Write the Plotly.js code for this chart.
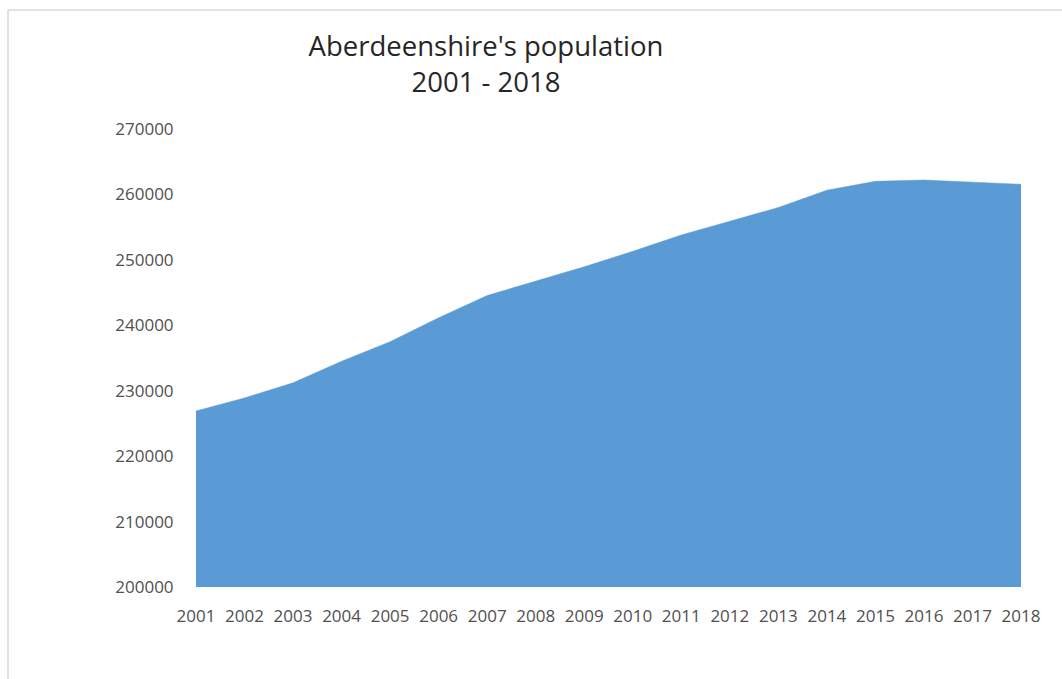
<!DOCTYPE html>
<html>
<head>
<meta charset="utf-8">
<script src="https://cdn.plot.ly/plotly-3.0.1.min.js"></script>
<style>
  html, body { margin: 0; padding: 0; background: #fff; }
  #chart { width: 1062px; height: 679px; }
</style>
</head>
<body>
<div id="chart"></div>
<script>
const years = ['2001','2002','2003','2004','2005','2006','2007','2008','2009',
               '2010','2011','2012','2013','2014','2015','2016','2017','2018'];
const population = [226900, 228900, 231200, 234500, 237500, 241150, 244550, 246750, 248950,
                    251300, 253800, 255900, 258000, 260650, 262000, 262200, 261900, 261550];
const yTicks = [200000, 210000, 220000, 230000, 240000, 250000, 260000, 270000];
const chartTitle = "Aberdeenshire's population<br>2001 - 2018";

const trace = {
  x: years,
  y: population,
  type: 'scatter',
  mode: 'lines',
  fill: 'tozeroy',
  fillcolor: '#5B9BD5',
  line: { color: '#5B9BD5', width: 0.5 },
  hoverinfo: 'x+y'
};

const layout = {
  width: 1062,
  height: 679,
  paper_bgcolor: '#ffffff',
  plot_bgcolor: '#ffffff',
  showlegend: false,
  margin: { l: 196, r: 41, t: 129, b: 92 },
  font: { family: 'Open Sans, sans-serif', color: '#595959' },
  title: {
    text: chartTitle,
    font: { family: 'Open Sans, sans-serif', size: 27.5, color: '#262626' },
    xref: 'container', x: 486 / 1062, xanchor: 'center',
    yref: 'container', y: 1 - 56 / 679, yanchor: 'top'
  },
  xaxis: {
    type: 'category',
    range: [0, years.length - 1],
    showgrid: false,
    zeroline: false,
    showline: false,
    ticks: 'outside',
    ticklen: 14,
    tickcolor: 'rgba(0,0,0,0)',
    tickfont: { family: 'Open Sans, sans-serif', size: 17, color: '#505050' },
    fixedrange: true
  },
  yaxis: {
    range: [200000, 270000],
    tickvals: yTicks,
    ticktext: yTicks.map(String),
    showgrid: false,
    zeroline: false,
    showline: false,
    ticks: 'outside',
    ticklen: 18,
    tickcolor: 'rgba(0,0,0,0)',
    tickfont: { family: 'Open Sans, sans-serif', size: 17, color: '#505050' },
    fixedrange: true
  },
  shapes: [
    { type: 'line', xref: 'paper', yref: 'paper',
      x0: -188 / 825, x1: 1.2, y0: 1 + 119 / 458, y1: 1 + 119 / 458,
      line: { color: '#d9d9d9', width: 1.5 } },
    { type: 'line', xref: 'paper', yref: 'paper',
      x0: -188 / 825, x1: -188 / 825, y0: 1 + 119 / 458, y1: -0.3,
      line: { color: '#d9d9d9', width: 1.5 } }
  ]
};

Plotly.newPlot('chart', [trace], layout, { displayModeBar: false, staticPlot: true });
</script>
</body>
</html>
